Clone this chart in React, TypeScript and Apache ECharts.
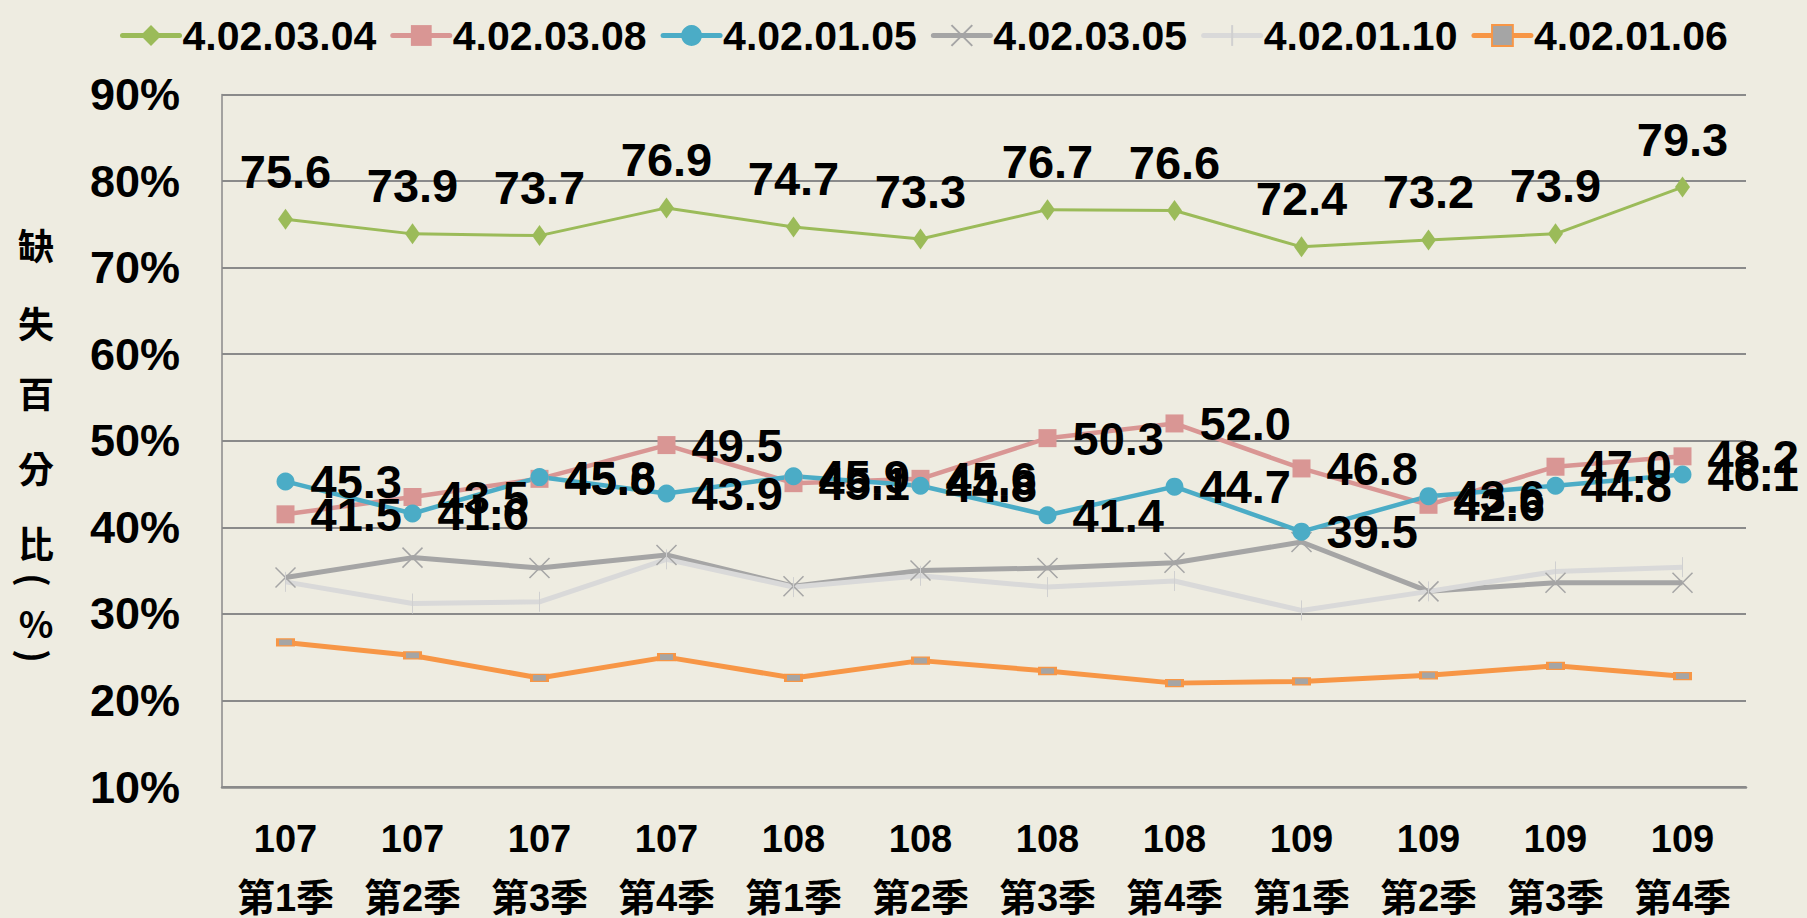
import React, { useEffect, useRef } from "react";
import * as echarts from "echarts";

const categories = ["107\n第1季", "107\n第2季", "107\n第3季", "107\n第4季", "108\n第1季", "108\n第2季", "108\n第3季", "108\n第4季", "109\n第1季", "109\n第2季", "109\n第3季", "109\n第4季"];
const s040304 = [75.6, 73.9, 73.7, 76.9, 74.7, 73.3, 76.7, 76.6, 72.4, 73.2, 73.9, 79.3];
const s040308 = [41.5, 43.5, 45.6, 49.5, 45.1, 45.6, 50.3, 52.0, 46.8, 42.6, 47.0, 48.2];
const s040105 = [45.3, 41.6, 45.8, 43.9, 45.9, 44.8, 41.4, 44.7, 39.5, 43.6, 44.8, 46.1];
const s040305 = [34.2, 36.5, 35.3, 36.8, 33.2, 35.0, 35.3, 35.9, 38.3, 32.6, 33.6, 33.6];
const s040110 = [33.7, 31.2, 31.4, 36.3, 33.1, 34.4, 33.1, 33.8, 30.4, 32.6, 34.9, 35.4];
const s040106 = [26.7, 25.2, 22.6, 25.0, 22.6, 24.6, 23.4, 22.0, 22.2, 22.9, 24.0, 22.8];
const seriesNames = ["4.02.03.04", "4.02.03.08", "4.02.01.05", "4.02.03.05", "4.02.01.10", "4.02.01.06"];
const yTitleChars = ["缺", "失", "百", "分", "比", "(", "%", ")"];

const labelBase = {
  show: true,
  color: "#000",
  fontSize: 47,
  fontWeight: "bold" as const,
  fontFamily: "Liberation Sans, Arial, sans-serif",
  formatter: (p: any) => Number(p.value).toFixed(1),
};

export default function App() {
  const ref = useRef<HTMLDivElement>(null);
  useEffect(() => {
    if (!ref.current) return;
    const chart = echarts.init(ref.current, undefined, { renderer: "svg" });
    const titleYs = [244, 322, 392, 467, 542, 580, 622, 656];
    const titleRot = [0, 0, 0, 0, 0, -Math.PI / 2, 0, -Math.PI / 2];
    const option: any = {
      animation: false,
      backgroundColor: "#EEECE1",
      legend: {
        top: 10,
        left: 115,
        itemWidth: 57,
        itemHeight: 26,
        itemGap: 14,
        lineStyle: { width: 5, cap: "round" },
        textStyle: { fontSize: 41, fontWeight: "bold", color: "#000", fontFamily: "Liberation Sans, Arial, sans-serif", padding: [0, 0, 0, -2] },
        data: seriesNames,
      },
      grid: { left: 222, right: 61, top: 94.5, bottom: 131, containLabel: false, outerBoundsMode: "none" },
      xAxis: {
        type: "category",
        data: categories,
        boundaryGap: true,
        axisLine: { show: true, lineStyle: { color: "#8a8a8a", width: 2.5 } },
        axisTick: { show: false },
        axisLabel: {
          interval: 0,
          margin: 22,
          color: "#000",
          fontSize: 38,
          fontWeight: "bold",
          lineHeight: 59,
          fontFamily: "Liberation Sans, Noto Sans CJK TC, sans-serif",
        },
      },
      yAxis: {
        type: "value",
        min: 10,
        max: 90,
        interval: 10,
        axisLine: { show: true, lineStyle: { color: "#8a8a8a", width: 1.5 } },
        axisTick: { show: false },
        splitLine: { show: true, lineStyle: { color: "#8a8a8a", width: 2 } },
        axisLabel: {
          formatter: "{value}%",
          margin: 42,
          color: "#000",
          fontSize: 45,
          fontWeight: "bold",
          fontFamily: "Liberation Sans, Arial, sans-serif",
        },
      },
      graphic: yTitleChars.map((c, i) => ({
        type: "text",
        x: 36,
        y: titleYs[i],
        rotation: titleRot[i],
        style: {
          text: c,
          align: "center",
          verticalAlign: "middle",
          fontSize: 36,
          fontWeight: "bold",
          fill: "#000",
          fontFamily: "Noto Sans CJK TC, sans-serif",
        },
      })),
      series: [
        {
          name: seriesNames[0],
          type: "line",
          data: s040304,
          symbol: "diamond",
          symbolSize: [15, 21],
          itemStyle: { color: "#9BBB59" },
          lineStyle: { color: "#9BBB59", width: 3 },
          label: { ...labelBase, position: "top", distance: 14 },
          z: 3,
        },
        {
          name: seriesNames[1],
          type: "line",
          data: s040308,
          symbol: "rect",
          symbolSize: 18,
          itemStyle: { color: "#D99694" },
          lineStyle: { color: "#D99694", width: 4.5 },
          label: { ...labelBase, position: "right", distance: 16 },
          z: 3,
        },
        {
          name: seriesNames[2],
          type: "line",
          data: s040105,
          symbol: "circle",
          symbolSize: 18,
          itemStyle: { color: "#4BACC6" },
          lineStyle: { color: "#4BACC6", width: 4.5 },
          label: { ...labelBase, position: "right", distance: 16 },
          z: 3,
        },
        {
          name: seriesNames[3],
          type: "line",
          data: s040305,
          symbol: "path://M0,0L10,10M10,0L0,10",
          symbolSize: 20,
          itemStyle: { color: "#A5A5A5", borderColor: "#A5A5A5", borderWidth: 1.5 },
          lineStyle: { color: "#A5A5A5", width: 5 },
          z: 2,
        },
        {
          name: seriesNames[4],
          type: "line",
          data: s040110,
          symbol: "path://M5,0L5,20M0,10L0,10M10,10L10,10",
          symbolSize: [10, 20],
          itemStyle: { color: "#D9D9D9", borderColor: "#D0D0D0", borderWidth: 1.5 },
          lineStyle: { color: "#D9D9D9", width: 5 },
          z: 2,
        },
        {
          name: seriesNames[5],
          type: "line",
          data: s040106,
          symbol: "rect",
          symbolSize: [16, 7],
          itemStyle: { color: "#A5A5A5", borderColor: "#F79646", borderWidth: 2 },
          lineStyle: { color: "#F79646", width: 5 },
          z: 2,
        },
      ],
    };
    chart.setOption(option);
    return () => chart.dispose();
  }, []);
  return <div ref={ref} style={{ position: "fixed", left: 0, top: 0, width: 1807, height: 918 }} />;
}
